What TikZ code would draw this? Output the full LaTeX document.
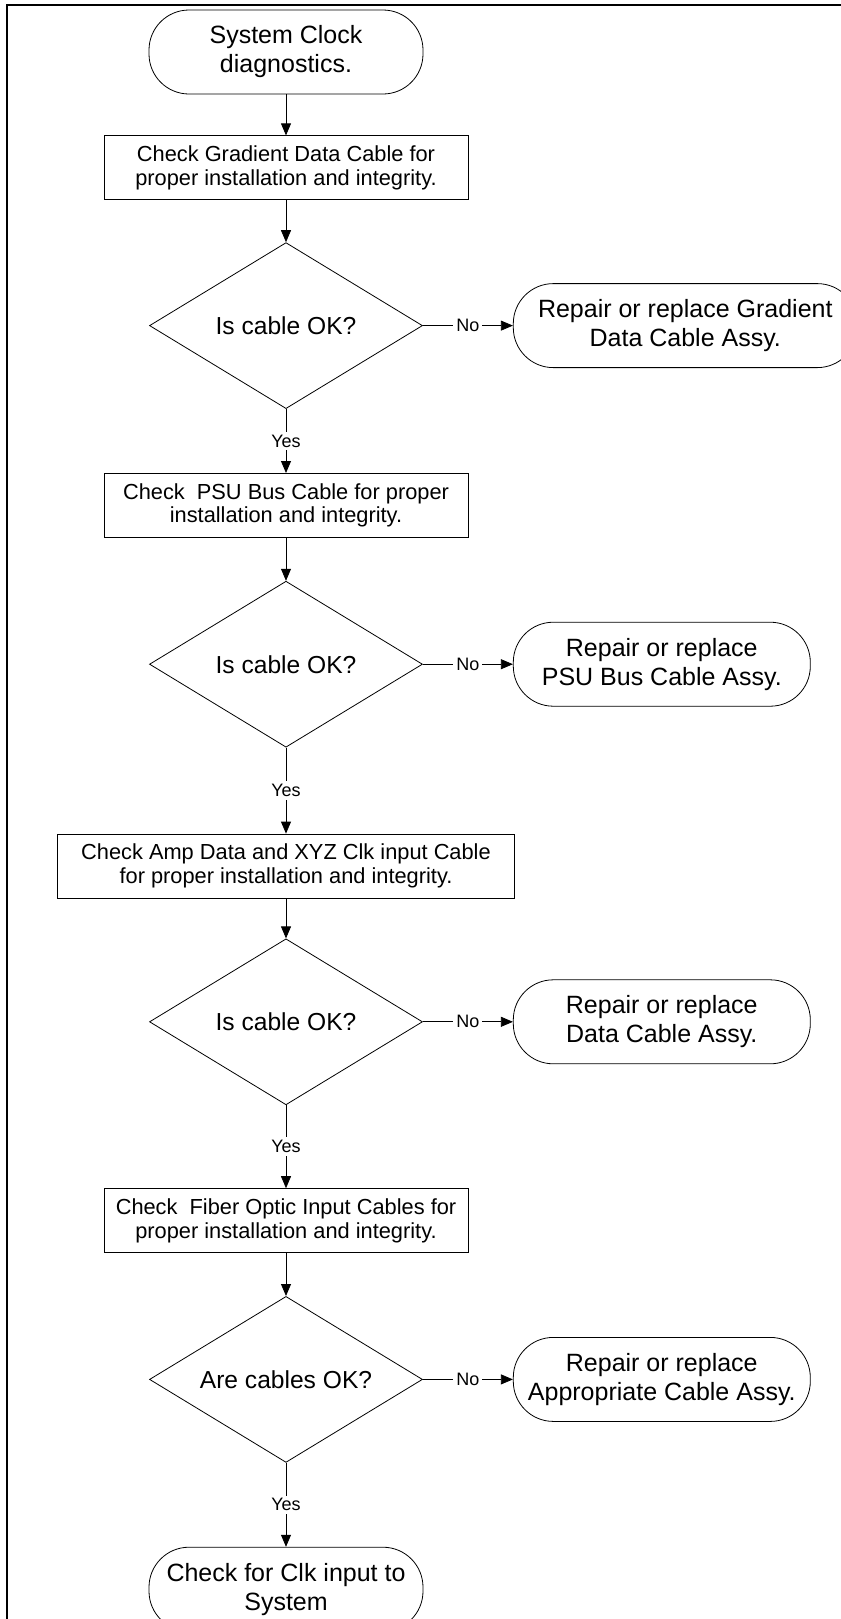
\documentclass[tikz,border=0pt]{standalone}
\usepackage{fontspec}
\setmainfont{Liberation Sans}
\usetikzlibrary{shapes.geometric, arrows.meta, positioning}

\begin{document}
\begin{tikzpicture}[x=0.5pt, y=-0.5pt,
        term/.style={rectangle, draw, rounded corners=20pt, minimum width=137pt, minimum height=42pt, inner sep=2pt, align=center, font=\fontsize{12.5}{14.5}\selectfont},
        repair/.style={term, minimum width=148.5pt},
        check/.style={rectangle, draw, minimum width=182pt, minimum height=32pt, inner sep=2pt, align=center, font=\fontsize{10.9}{11.8}\selectfont},
        decide/.style={diamond, draw, aspect=1.64, minimum width=136.5pt, minimum height=83pt, inner sep=0pt, font=\fontsize{12.3}{14}\selectfont},
        answer/.style={fill=white, inner sep=1.5pt, font=\fontsize{9}{10}\selectfont},
        >={Triangle[length=6pt, width=5pt]},
    ]

\useasboundingbox (0,0) rectangle (841,1619);
\clip (0,0) rectangle (841,1619);
\draw[line width=1pt] (7,5) rectangle (880,1660);

\node[term] (Start) at (286,52) {System Clock\\diagnostics.};

\node[check, below=20.5pt of Start] (ChkGradient) {Check Gradient Data Cable for\\proper installation and integrity.};
\draw[->] (Start) -- (ChkGradient);

\node[decide, below=21pt of ChkGradient] (OkGradient) {Is cable OK?};
\draw[->] (ChkGradient) -- (OkGradient);
\node[repair, right=45pt of OkGradient, minimum width=172pt] (FixGradient) {Repair or replace Gradient\\Data Cable Assy.};
\draw[->] (OkGradient) -- (FixGradient) node[answer, midway] {No};

\node[check, below=32pt of OkGradient] (ChkPsu) {Check\ \ PSU Bus Cable for proper\\installation and integrity.};
\draw[->] (OkGradient) -- (ChkPsu) node[answer, midway] {Yes};

\node[decide, below=21.5pt of ChkPsu] (OkPsu) {Is cable OK?};
\draw[->] (ChkPsu) -- (OkPsu);
\node[repair, right=45pt of OkPsu] (FixPsu) {Repair or replace\\PSU Bus Cable Assy.};
\draw[->] (OkPsu) -- (FixPsu) node[answer, midway] {No};

\node[check, below=43pt of OkPsu, minimum width=228.5pt] (ChkAmp) {Check Amp Data and XYZ Clk input Cable\\for proper installation and integrity.};
\draw[->] (OkPsu) -- (ChkAmp) node[answer, midway] {Yes};

\node[decide, below=20pt of ChkAmp] (OkAmp) {Is cable OK?};
\draw[->] (ChkAmp) -- (OkAmp);
\node[repair, right=45pt of OkAmp] (FixAmp) {Repair or replace\\Data Cable Assy.};
\draw[->] (OkAmp) -- (FixAmp) node[answer, midway] {No};

\node[check, below=41.5pt of OkAmp] (ChkFiber) {Check\ \ Fiber Optic Input Cables for\\proper installation and integrity.};
\draw[->] (OkAmp) -- (ChkFiber) node[answer, midway] {Yes};

\node[decide, below=21.5pt of ChkFiber] (OkFiber) {Are cables OK?};
\draw[->] (ChkFiber) -- (OkFiber);
\node[repair, right=45pt of OkFiber] (FixFiber) {Repair or replace\\Appropriate Cable Assy.};
\draw[->] (OkFiber) -- (FixFiber) node[answer, midway] {No};

\node[term, below=42pt of OkFiber] (Stop) {Check for Clk input to\\System};
\draw[->] (OkFiber) -- (Stop) node[answer, midway] {Yes};
\end{tikzpicture}
\end{document}
